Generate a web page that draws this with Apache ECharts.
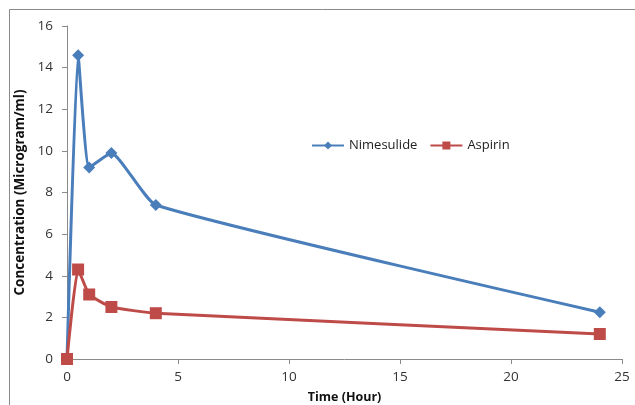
<!DOCTYPE html>
<html><head><meta charset="utf-8">
<script src="https://cdn.jsdelivr.net/npm/echarts@6/dist/echarts.min.js"></script>
<style>html,body{margin:0;padding:0;background:#fff}#c{width:635px;height:405px}</style>
</head><body><div id="c"></div>
<script>
const timeHours = [0, 0.5, 1, 2, 4, 24];
const nimesulide = [0, 14.6, 9.2, 9.9, 7.4, 2.25];
const aspirin = [0, 4.3, 3.1, 2.5, 2.2, 1.2];
const xTicks = [0, 5, 10, 15, 20, 25];
const yTicks = [0, 2, 4, 6, 8, 10, 12, 14, 16];

const chart = echarts.init(document.getElementById('c'));
const font = 'Open Sans, Liberation Sans, sans-serif';
chart.setOption({
  animation: false,
  graphic: [{type:'rect', shape:{x:9.5,y:9.5,width:640,height:420}, style:{fill:'none', stroke:'#8a8a8a', lineWidth:1}, silent:true}],
  grid: {left: 67, right: 13, top: 26, bottom: 46, outerBoundsMode: 'none', containLabel: false},
  legend: {
    left: 306, top: 134, itemGap: 12, itemWidth: 32, itemHeight: 10,
    textStyle: {fontFamily: font, fontSize: 13, color: '#222'},
    data: ['Nimesulide', 'Aspirin']
  },
  xAxis: {
    type: 'value', min: 0, max: 25, interval: 5,
    name: 'Time (Hour)', nameLocation: 'middle', nameGap: 32,
    nameTextStyle: {fontFamily: font, fontWeight: 'bold', fontSize: 12.5, color: '#111'},
    axisLine: {lineStyle: {color: '#8a8a8a'}},
    axisTick: {show: true, length: 5, lineStyle: {color: '#8a8a8a'}},
    axisLabel: {fontFamily: font, fontSize: 13.5, color: '#333', margin: 11},
    splitLine: {show: false}
  },
  yAxis: {
    type: 'value', min: 0, max: 16, interval: 2,
    name: 'Concentration (Microgram/ml)', nameLocation: 'middle', nameGap: 36,
    nameTextStyle: {fontFamily: font, fontWeight: 'bold', fontSize: 13.5, color: '#111'},
    axisLine: {show: true, lineStyle: {color: '#8a8a8a'}},
    axisTick: {show: true, length: 5, lineStyle: {color: '#8a8a8a'}},
    axisLabel: {fontFamily: font, fontSize: 13.5, color: '#333', margin: 14},
    splitLine: {show: false}
  },
  series: [
    {
      name: 'Nimesulide', type: 'line', smooth: 0.15,
      data: timeHours.map((t, i) => [t, nimesulide[i]]),
      symbol: 'diamond', symbolSize: 12,
      itemStyle: {color: '#4a7ebb'},
      lineStyle: {color: '#4a7ebb', width: 3}
    },
    {
      name: 'Aspirin', type: 'line', smooth: 0.15,
      data: timeHours.map((t, i) => [t, aspirin[i]]),
      symbol: 'rect', symbolSize: 12,
      itemStyle: {color: '#be4b48'},
      lineStyle: {color: '#be4b48', width: 3}
    }
  ]
});
</script></body></html>
